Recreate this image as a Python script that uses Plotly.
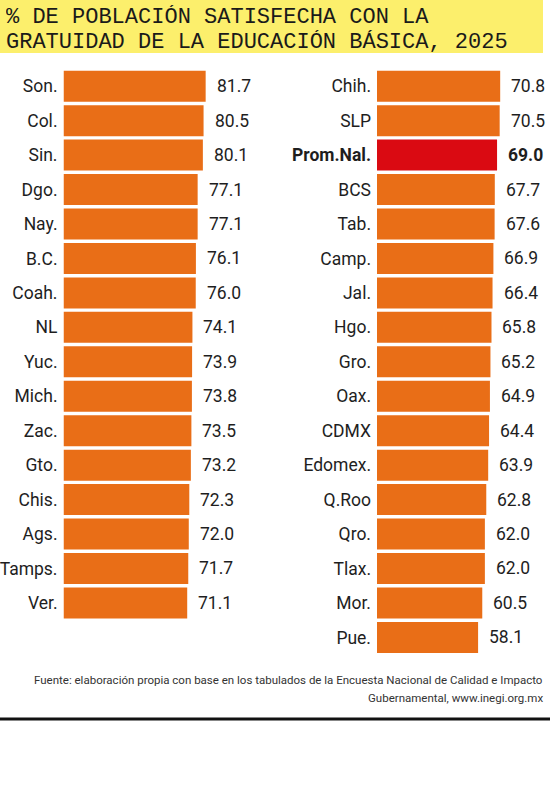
import plotly.graph_objects as go

# datos (ENCIG 2025)
left_states = ["Son.", "Col.", "Sin.", "Dgo.", "Nay.", "B.C.", "Coah.", "NL",
               "Yuc.", "Mich.", "Zac.", "Gto.", "Chis.", "Ags.", "Tamps.", "Ver."]
left_vals = [81.7, 80.5, 80.1, 77.1, 77.1, 76.1, 76.0, 74.1,
             73.9, 73.8, 73.5, 73.2, 72.3, 72.0, 71.7, 71.1]

right_states = ["Chih.", "SLP", "Prom.Nal.", "BCS", "Tab.", "Camp.", "Jal.", "Hgo.",
                "Gro.", "Oax.", "CDMX", "Edomex.", "Q.Roo", "Qro.", "Tlax.", "Mor.", "Pue."]
right_vals = [70.8, 70.5, 69.0, 67.7, 67.6, 66.9, 66.4, 65.8,
              65.2, 64.9, 64.4, 63.9, 62.8, 62.0, 62.0, 60.5, 58.1]

highlight = "Prom.Nal."

title_lines = ["% DE POBLACIÓN SATISFECHA CON LA",
               "GRATUIDAD DE LA EDUCACIÓN BÁSICA, 2025"]
source_lines = ["Fuente: elaboración propia con base en los tabulados de la Encuesta Nacional de Calidad e Impacto",
                "Gubernamental, www.inegi.org.mx"]

W, H = 550, 800
ORANGE = "#E96E17"
RED = "#DA0A12"
LABEL_FONT = "Roboto, sans-serif"
TXT = "#1e1e1e"
LBL_SIZE = 17.5


def px_x(p):
    return p / W


def px_y(p):
    return 1 - p / H


def bold_if(name, text):
    return f"<b>{text}</b>" if name == highlight else text


fig = go.Figure()

# columna izquierda
fig.add_trace(go.Bar(
    x=left_vals, y=list(range(len(left_states))), orientation="h",
    marker=dict(color=ORANGE, line=dict(width=0)),
    xaxis="x", yaxis="y", hoverinfo="x+text", text=left_states, textposition="none",
))

# columna derecha
fig.add_trace(go.Bar(
    x=right_vals, y=list(range(len(right_states))), orientation="h",
    marker=dict(color=[RED if s == highlight else ORANGE for s in right_states], line=dict(width=0)),
    xaxis="x2", yaxis="y2", hoverinfo="x+text", text=right_states, textposition="none",
))

annotations = []
for i, (s, v) in enumerate(zip(left_states, left_vals)):
    annotations.append(dict(x=v, y=i, xref="x", yref="y", xanchor="left", xshift=9,
                            text=bold_if(s, f"{v:.1f}"), showarrow=False,
                            font=dict(family=LABEL_FONT, size=LBL_SIZE, color=TXT)))
for i, (s, v) in enumerate(zip(right_states, right_vals)):
    annotations.append(dict(x=v, y=i, xref="x2", yref="y2", xanchor="left", xshift=9,
                            text=bold_if(s, f"{v:.1f}"), showarrow=False,
                            font=dict(family=LABEL_FONT, size=LBL_SIZE, color=TXT)))

# titulo
for line, yc in zip(title_lines, [17.5, 41.5]):
    annotations.append(dict(x=px_x(4), y=px_y(yc), xref="paper", yref="paper",
                            xanchor="left", yanchor="middle", text=line, showarrow=False,
                            height=24,
                            font=dict(family="Liberation Mono, DejaVu Sans Mono, monospace",
                                      size=22, color="#1a1a1a")))

# fuente
for line, yc in zip(source_lines, [680, 698]):
    annotations.append(dict(x=px_x(545), y=px_y(yc), xref="paper", yref="paper",
                            xanchor="right", yanchor="middle", text=line, showarrow=False,
                            font=dict(family=LABEL_FONT, size=11.5, color="#333333")))

top_px, bot_px = 69, 654.6
ydom = [px_y(bot_px), px_y(top_px)]

fig.update_layout(
    width=W, height=H,
    margin=dict(l=0, r=0, t=0, b=0),
    paper_bgcolor="white", plot_bgcolor="white",
    showlegend=False,
    bargap=0.1,
    xaxis=dict(domain=[px_x(63.5), px_x(63.5 + 174)], range=[0, 100], visible=False),
    xaxis2=dict(domain=[px_x(377), px_x(377 + 165.3)], range=[0, 95], visible=False),
    yaxis=dict(domain=ydom, anchor="x", range=[16.5, -0.5], automargin=False,
               tickvals=list(range(len(left_states))), ticktext=left_states,
               showgrid=False, zeroline=False, showline=False, ticks="",
               ticklabelstandoff=5,
               tickfont=dict(family=LABEL_FONT, size=LBL_SIZE, color=TXT)),
    yaxis2=dict(domain=ydom, anchor="x2", range=[16.5, -0.5], automargin=False,
                tickvals=list(range(len(right_states))),
                ticktext=[bold_if(s, s) for s in right_states],
                showgrid=False, zeroline=False, showline=False, ticks="",
                ticklabelstandoff=5,
                tickfont=dict(family=LABEL_FONT, size=LBL_SIZE, color=TXT)),
    shapes=[
        dict(type="rect", xref="paper", yref="paper", x0=0, x1=px_x(543),
             y0=px_y(53), y1=1, fillcolor="#FCEF6C", line=dict(width=0), layer="below"),
        dict(type="line", xref="paper", yref="paper", x0=0, x1=1,
             y0=px_y(719), y1=px_y(719), line=dict(color="#111111", width=3)),
    ],
    annotations=annotations,
)

# quitar el margen del body para que la figura empiece en (0, 0)
fig.write_html("out.html", config={"displayModeBar": False},
               post_script="document.body.style.margin = '0';")
